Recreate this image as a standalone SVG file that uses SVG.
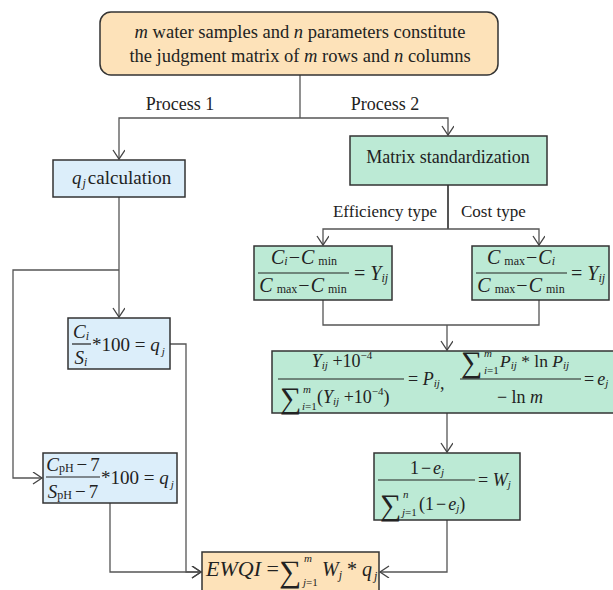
<svg xmlns="http://www.w3.org/2000/svg" width="613" height="590" viewBox="0 0 613 590">
<defs>
<marker id="arr" markerUnits="userSpaceOnUse" markerWidth="12" markerHeight="14" refX="10" refY="6" orient="auto">
<path d="M1,0 L10,6 L1,12" fill="none" stroke="#444" stroke-width="1.3"/>
</marker>
<style>
.box{stroke:#333;stroke-width:1.5}
.or{fill:#fde2b9}
.bl{fill:#dceefa}
.gr{fill:#bcead5}
.ln{fill:none;stroke:#555;stroke-width:1.3}
text{font-family:"Liberation Serif","Times New Roman",serif;fill:#222}
.i{font-style:italic}
.fl{stroke:#222;stroke-width:1.2}
</style>
</defs>
<rect width="613" height="590" fill="#fff"/>

<g id="connectors">
<path class="ln" d="M300,75 V118"/>
<path class="ln" d="M300,118 H119 V159" marker-end="url(#arr)"/>
<path class="ln" d="M300,118 H448 V135" marker-end="url(#arr)"/>
<path class="ln" d="M119,197 V317" marker-end="url(#arr)"/>
<path class="ln" d="M119,270 H13 V478 H42" marker-end="url(#arr)"/>
<path class="ln" d="M170,344 H186 V572 H201" marker-end="url(#arr)"/>
<path class="ln" d="M110,503 V572 H201" marker-end="url(#arr)"/>
<path class="ln" d="M448,185 V229" style="stroke-width:2"/>
<path class="ln" d="M448,229 H323 V245" marker-end="url(#arr)"/>
<path class="ln" d="M448,229 H539 V245" marker-end="url(#arr)"/>
<path class="ln" d="M323,300 V325 H539 V300"/>
<path class="ln" d="M447,325 V350" marker-end="url(#arr)"/>
<path class="ln" d="M447,413 V452" marker-end="url(#arr)"/>
<path class="ln" d="M447,520 V572 H380" marker-end="url(#arr)"/>
<text x="180" y="110" font-size="18" text-anchor="middle">Process 1</text>
<text x="385" y="110" font-size="18" text-anchor="middle">Process 2</text>
<text x="437" y="217" font-size="17" text-anchor="end">Efficiency type</text>
<text x="461" y="217" font-size="17">Cost type</text>
</g>

<g id="top">
<rect class="box or" x="100" y="12" width="398" height="63" rx="11"/>
<text x="300" y="38" font-size="18.5" text-anchor="middle"><tspan class="i">m</tspan> water samples and <tspan class="i">n</tspan> parameters constitute</text>
<text x="300" y="62" font-size="18.5" text-anchor="middle">the judgment matrix of <tspan class="i">m</tspan> rows and <tspan class="i">n</tspan> columns</text>
</g>

<g id="qcalc">
<rect class="box bl" x="53" y="160" width="132" height="37"/>
<text x="72" y="184" font-size="19"><tspan class="i">q</tspan><tspan class="i" font-size="12" dy="3" dx="1">j</tspan><tspan dy="-3" dx="2">calculation</tspan></text>
</g>

<g id="ci">
<rect class="box bl" x="68" y="318" width="102" height="51"/>
<text x="81" y="338" font-size="19" text-anchor="middle"><tspan class="i">C</tspan><tspan class="i" font-size="12" dy="2">i</tspan></text>
<line class="fl" x1="72" y1="344" x2="91" y2="344"/>
<text x="81" y="364" font-size="19" text-anchor="middle"><tspan class="i">S</tspan><tspan class="i" font-size="12" dy="2">i</tspan></text>
<text x="92" y="351" font-size="19">*100 = <tspan class="i">q</tspan><tspan class="i" font-size="11" dy="4" dx="2">j</tspan></text>
</g>

<g id="ph">
<rect class="box bl" x="43" y="453" width="134" height="50"/>
<text x="73" y="471" font-size="19" text-anchor="middle"><tspan class="i">C</tspan><tspan font-size="12" dy="1">pH</tspan><tspan dy="-1" dx="3">−</tspan><tspan dx="3">7</tspan></text>
<line class="fl" x1="46" y1="477" x2="100" y2="477"/>
<text x="73" y="498" font-size="19" text-anchor="middle"><tspan class="i">S</tspan><tspan font-size="12" dy="1">pH</tspan><tspan dy="-1" dx="3">−</tspan><tspan dx="3">7</tspan></text>
<text x="101" y="484" font-size="19">*100 = <tspan class="i">q</tspan><tspan class="i" font-size="11" dy="4" dx="2">j</tspan></text>
</g>

<g id="matrix">
<rect class="box gr" x="350" y="136" width="197" height="49"/>
<text x="448" y="163" font-size="18" text-anchor="middle">Matrix standardization</text>
</g>

<g id="yeff">
<rect class="box gr" x="254" y="246" width="138" height="54"/>
<text x="304" y="264" font-size="20" text-anchor="middle"><tspan class="i">C</tspan><tspan class="i" font-size="12" dy="1">i</tspan><tspan dy="-1" dx="1">−</tspan><tspan class="i" dx="1">C</tspan><tspan font-size="12" dx="4" dy="1">min</tspan></text>
<line class="fl" x1="258" y1="273" x2="349" y2="273"/>
<text x="303" y="292" font-size="20" text-anchor="middle"><tspan class="i">C</tspan><tspan font-size="12" dx="4" dy="1">max</tspan><tspan dy="-1" dx="1">−</tspan><tspan class="i" dx="1">C</tspan><tspan font-size="12" dx="4" dy="1">min</tspan></text>
<text x="354" y="280" font-size="20">= <tspan class="i">Y</tspan><tspan class="i" font-size="12" dy="2">ij</tspan></text>
</g>

<g id="ycost">
<rect class="box gr" x="472" y="246" width="137" height="54"/>
<text x="521" y="264" font-size="20" text-anchor="middle"><tspan class="i">C</tspan><tspan font-size="12" dx="4" dy="1">max</tspan><tspan dy="-1" dx="1">−</tspan><tspan class="i" dx="1">C</tspan><tspan class="i" font-size="12" dy="1">i</tspan></text>
<line class="fl" x1="476" y1="273" x2="567" y2="273"/>
<text x="521" y="292" font-size="20" text-anchor="middle"><tspan class="i">C</tspan><tspan font-size="12" dx="4" dy="1">max</tspan><tspan dy="-1" dx="1">−</tspan><tspan class="i" dx="1">C</tspan><tspan font-size="12" dx="4" dy="1">min</tspan></text>
<text x="571" y="280" font-size="20">= <tspan class="i">Y</tspan><tspan class="i" font-size="12" dy="2">ij</tspan></text>
</g>

<g id="pbox">
<rect class="box gr" x="272" y="351" width="350" height="62"/>
<text x="342" y="367" font-size="18" text-anchor="middle"><tspan class="i">Y</tspan><tspan class="i" font-size="11" dy="2">ij</tspan><tspan dy="-2"> +10</tspan><tspan font-size="11" dy="-8">−4</tspan></text>
<line class="fl" x1="278" y1="379" x2="404" y2="379"/>
<text x="280" y="408" font-size="30">∑</text>
<text x="303" y="393" font-size="11" class="i">m</text>
<text x="302" y="410" font-size="11"><tspan class="i">i</tspan>=1</text>
<text x="317" y="403" font-size="18">(<tspan class="i">Y</tspan><tspan class="i" font-size="11" dy="2">ij</tspan><tspan dy="-2"> +10</tspan><tspan font-size="11" dy="-8">−4</tspan><tspan dy="8">)</tspan></text>
<text x="408" y="385" font-size="18">= <tspan class="i">P</tspan><tspan class="i" font-size="11" dy="2">ij</tspan></text>
<text x="440" y="389" font-size="18">,</text>
<text x="461" y="372" font-size="30">∑</text>
<text x="484" y="357" font-size="11" class="i">m</text>
<text x="484" y="374" font-size="11"><tspan class="i">i</tspan>=1</text>
<text x="500" y="367" font-size="17.5"><tspan class="i">P</tspan><tspan class="i" font-size="11" dy="2">ij</tspan><tspan dy="-2"> * ln </tspan><tspan class="i">P</tspan><tspan class="i" font-size="11" dy="2">ij</tspan></text>
<line class="fl" x1="460" y1="379" x2="581" y2="379"/>
<text x="520" y="403" font-size="18" text-anchor="middle">− ln <tspan class="i">m</tspan></text>
<text x="584" y="385" font-size="18">=<tspan class="i" dx="3">e</tspan><tspan class="i" font-size="11" dy="2">j</tspan></text>
</g>

<g id="wbox">
<rect class="box gr" x="374" y="453" width="146" height="67"/>
<text x="427" y="474" font-size="18" text-anchor="middle">1<tspan dx="2">−</tspan><tspan class="i" dx="2">e</tspan><tspan class="i" font-size="11" dy="2">j</tspan></text>
<line class="fl" x1="378" y1="480" x2="475" y2="480"/>
<text x="380" y="515" font-size="30">∑</text>
<text x="403" y="498" font-size="11" class="i">n</text>
<text x="402" y="516" font-size="11"><tspan class="i">j</tspan>=1</text>
<text x="419" y="510" font-size="18">(1<tspan dx="2">−</tspan><tspan class="i" dx="2">e</tspan><tspan class="i" font-size="11" dy="2">j</tspan><tspan dy="-2">)</tspan></text>
<text x="478" y="486" font-size="18">= <tspan class="i">W</tspan><tspan class="i" font-size="11" dy="2">j</tspan></text>
</g>

<g id="ewqi">
<rect class="box or" x="202" y="552" width="177" height="42"/>
<text x="206" y="576" font-size="22"><tspan class="i">EWQI</tspan> =</text>
<text x="279" y="582" font-size="31">∑</text>
<text x="304" y="562" font-size="11" class="i">m</text>
<text x="303" y="586" font-size="11"><tspan class="i">j</tspan>=1</text>
<text x="322" y="576" font-size="20"><tspan class="i">W</tspan><tspan class="i" font-size="12" dy="3">j</tspan><tspan dy="-3"> * </tspan><tspan class="i">q</tspan><tspan class="i" font-size="12" dy="4" dx="2">j</tspan></text>
</g>
</svg>
